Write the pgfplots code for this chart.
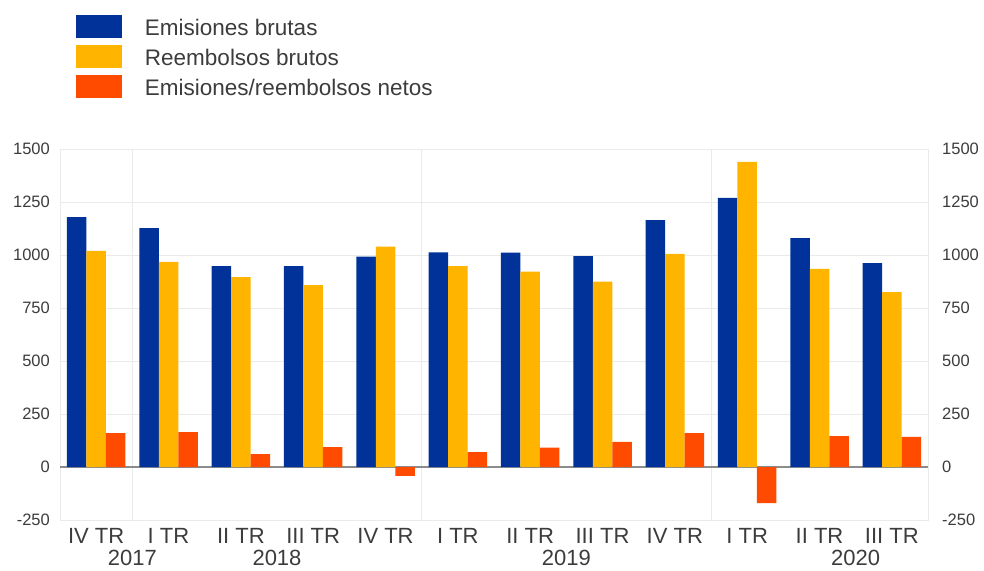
\documentclass[border=0pt]{standalone}
\usepackage{pgfplots}
\pgfplotsset{compat=1.18}
\usepackage{fontspec}
\setmainfont{Liberation Sans}
\definecolor{ecbblue}{RGB}{0,50,153}
\definecolor{ecbyellow}{RGB}{255,180,0}
\definecolor{ecbred}{RGB}{255,75,0}
\definecolor{txt}{RGB}{60,60,60}
\definecolor{gridc}{RGB}{234,234,234}
\begin{document}
\begin{tikzpicture}
\useasboundingbox (0,0) rectangle (984pt,570pt);
\begin{axis}[
  at={(60pt,50pt)}, anchor=south west,
  scale only axis, width=868pt, height=371pt,
  ymin=-250, ymax=1500, xmin=-0.5, xmax=11.5,
  ybar=0pt, bar width=19.5pt,
  ytick={-250,0,250,500,750,1000,1250,1500},
  xtick={0,...,11},
  xticklabels={IV TR, I TR, II TR, III TR, IV TR, I TR, II TR, III TR, IV TR, I TR, II TR, III TR},
  minor xtick={0.5,4.5,8.5},
  xminorgrids, ymajorgrids,
  major grid style={gridc, line width=0.8pt},
  minor grid style={gridc, line width=0.8pt},
  extra x ticks={0.5,2.5,6.5,10.5},
  extra x tick labels={2017,2018,2019,2020},
  extra x tick style={grid=none, xticklabel style={yshift=-22pt}},
  extra y ticks={0}, extra y tick labels={},
  extra y tick style={grid=major, major grid style={black!45, line width=1.2pt}},
  axis line style={gridc, line width=0.8pt},
  tick style={draw=none},
  major tick length=0pt, minor tick length=0pt,
  /pgf/number format/assume math mode=true,
  scaled y ticks=false,
  yticklabel style={font=\fontsize{16.5}{16.5}\selectfont, text=txt, inner sep=0pt, anchor=east, xshift=-10pt, /pgf/number format/1000 sep={}},
  xticklabel style={font=\fontsize{22}{22}\selectfont, text=txt, inner sep=0pt, anchor=north, yshift=-8pt},
  legend style={at={(axis description cs:0.0184,1.361)}, anchor=north west, draw=none, fill=none,
    inner sep=0pt, outer sep=0pt, row sep=7pt, column sep=23pt,
    font=\fontsize{22.5}{22.5}\selectfont, text=txt, nodes={inner sep=0pt}},
  legend cell align=left,
  legend image code/.code={\fill[#1] (0pt,-10pt) rectangle (46pt,13pt);},
]
\addplot[draw=none, fill=ecbblue] coordinates {
(0,1179) (1,1127) (2,948) (3,948) (4,992) (5,1012) (6,1011) (7,995) (8,1165) (9,1269) (10,1080) (11,962)};
\addplot[draw=none, fill=ecbyellow] coordinates {
(0,1019) (1,967) (2,896) (3,858) (4,1039) (5,948) (6,921) (7,874) (8,1005) (9,1439) (10,934) (11,825)};
\addplot[draw=none, fill=ecbred] coordinates {
(0,160) (1,165) (2,61) (3,94) (4,-42) (5,70) (6,91) (7,119) (8,160) (9,-170) (10,146) (11,142)};
\legend{Emisiones brutas, Reembolsos brutos, Emisiones/reembolsos netos}
\end{axis}
\begin{axis}[
  at={(60pt,50pt)}, anchor=south west,
  scale only axis, width=868pt, height=371pt,
  ymin=-250, ymax=1500, xmin=-0.5, xmax=11.5,
  hide x axis, axis y line*=right, axis line style={draw=none},
  ytick={-250,0,250,500,750,1000,1250,1500},
  tick style={draw=none}, major tick length=0pt,
  /pgf/number format/assume math mode=true,
  scaled y ticks=false,
  yticklabel style={font=\fontsize{16.5}{16.5}\selectfont, text=txt, inner sep=0pt, anchor=west, xshift=14pt, /pgf/number format/1000 sep={}},
]
\end{axis}
\end{tikzpicture}
\end{document}
